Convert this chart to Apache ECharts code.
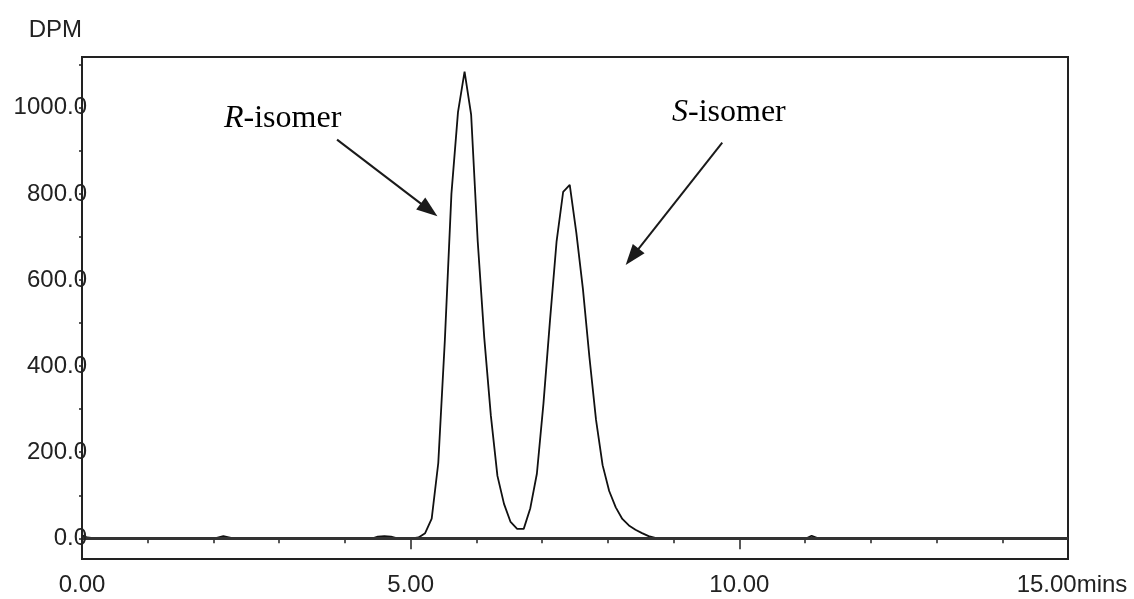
<!DOCTYPE html>
<html>
<head>
<meta charset="utf-8">
<script src="https://cdn.jsdelivr.net/npm/echarts@6/dist/echarts.min.js"></script>
<style>
  html, body { margin: 0; padding: 0; background: #fff; }
  #chart { width: 1134px; height: 599px; }
</style>
</head>
<body>
<div id="chart"></div>
<script>
// retention time (mins) and counts (DPM)
const times = [0, 0.08, 0.2, 2.02, 2.15, 2.3, 4.42, 4.5, 4.6, 4.7, 4.8,
  5.02, 5.12, 5.22, 5.32, 5.42, 5.52, 5.62, 5.72, 5.82, 5.92,
  6.02, 6.12, 6.22, 6.32, 6.42, 6.52, 6.62, 6.72, 6.82, 6.92,
  7.02, 7.12, 7.22, 7.32, 7.42, 7.52, 7.62, 7.72, 7.82, 7.92,
  8.02, 8.12, 8.22, 8.32, 8.42, 8.52, 8.62, 8.72, 8.82,
  11.02, 11.1, 11.2, 15];
const dpm = [7, 2, 0, 0, 5, 0, 0, 4, 5, 4, 0,
  0, 2, 12, 46, 175, 460, 800, 990, 1084, 984,
  690, 465, 285, 145, 80, 38, 22, 22, 70, 150,
  313, 507, 690, 805, 821, 710, 580, 420, 275, 170,
  110, 72, 45, 30, 20, 12, 5, 1, 0,
  0, 6, 0, 0];

const yLabels = [0, 200, 400, 600, 800, 1000];
const yTicks = [0, 100, 200, 300, 400, 500, 600, 700, 800, 900, 1000, 1100];

// annotation arrows: [from, to] in [mins, DPM]
const rArrow = [[3.88, 926], [5.28, 763]];
const sArrow = [[9.74, 919], [8.37, 654]];

const ink = '#222';
const sans = '"Liberation Sans", Arial, sans-serif';
const serif = '"Liberation Serif", "Times New Roman", serif';

const chart = echarts.init(document.getElementById('chart'));

const arrowItem = (pair) => [
  { coord: pair[0], symbol: 'none' },
  { coord: pair[1], symbol: 'triangle', symbolSize: [15, 21] },
];

const option = {
  animation: false,
  grid: {
    left: 82, right: 66, top: 57, bottom: 40,
    show: true, backgroundColor: 'transparent', borderColor: ink, borderWidth: 2,
  },
  xAxis: {
    type: 'value',
    min: 0, max: 15, interval: 5,
    axisLine: { show: true, lineStyle: { color: ink, width: 2 } },
    axisTick: { show: true, length: 11, lineStyle: { color: ink, width: 1.5 } },
    minorTick: { show: true, splitNumber: 5, length: 5, lineStyle: { color: ink, width: 1.5 } },
    splitLine: { show: false },
    axisLabel: {
      margin: 14, color: ink, fontFamily: sans, fontSize: 24,
      // last label carries the unit, as in the original printout
      formatter: (v) => v === 15 ? '{e|' + v.toFixed(2) + '}{m|mins}' : v.toFixed(2),
      rich: {
        e: { fontFamily: sans, fontSize: 24, color: ink, padding: [0, 0, 0, 8] },
        m: { fontFamily: sans, fontSize: 24, color: ink },
      },
    },
  },
  yAxis: {
    type: 'value',
    min: -48, max: 1118,
    z: 10,
    name: 'DPM',
    nameLocation: 'end',
    nameGap: 15,
    nameTextStyle: { color: ink, fontFamily: sans, fontSize: 24, align: 'right' },
    axisLine: { show: true, lineStyle: { color: ink, width: 2 } },
    axisTick: { show: true, length: 3, customValues: yTicks, lineStyle: { color: ink, width: 1.5 } },
    splitLine: { show: false },
    axisLabel: {
      margin: -5, color: ink, fontFamily: sans, fontSize: 24,
      customValues: yLabels,
      formatter: (v) => v.toFixed(1),
    },
  },
  graphic: [
    {
      type: 'text', left: 224, top: 103, silent: true,
      style: {
        text: '{i|R}-isomer', fill: '#000', font: '32px ' + serif,
        rich: { i: { fontFamily: serif, fontSize: 32, fontStyle: 'italic', fill: '#000' } },
      },
    },
    {
      type: 'text', left: 672, top: 97, silent: true,
      style: {
        text: '{i|S}-isomer', fill: '#000', font: '32px ' + serif,
        rich: { i: { fontFamily: serif, fontSize: 32, fontStyle: 'italic', fill: '#000' } },
      },
    },
  ],
  series: [
    {
      type: 'line',
      data: times.map((t, i) => [t, dpm[i]]),
      showSymbol: false,
      lineStyle: { color: '#111', width: 1.8 },
      markLine: {
        silent: true,
        animation: false,
        label: { show: false },
        lineStyle: { color: '#1a1a1a', width: 2, type: 'solid' },
        data: [
          [{ coord: [0, 0], symbol: 'none', lineStyle: { color: '#333', width: 3 } },
           { coord: [15, 0], symbol: 'none' }],
          arrowItem(rArrow),
          arrowItem(sArrow),
        ],
      },
      z: 3,
    },
  ],
};

chart.setOption(option);
</script>
</body>
</html>
